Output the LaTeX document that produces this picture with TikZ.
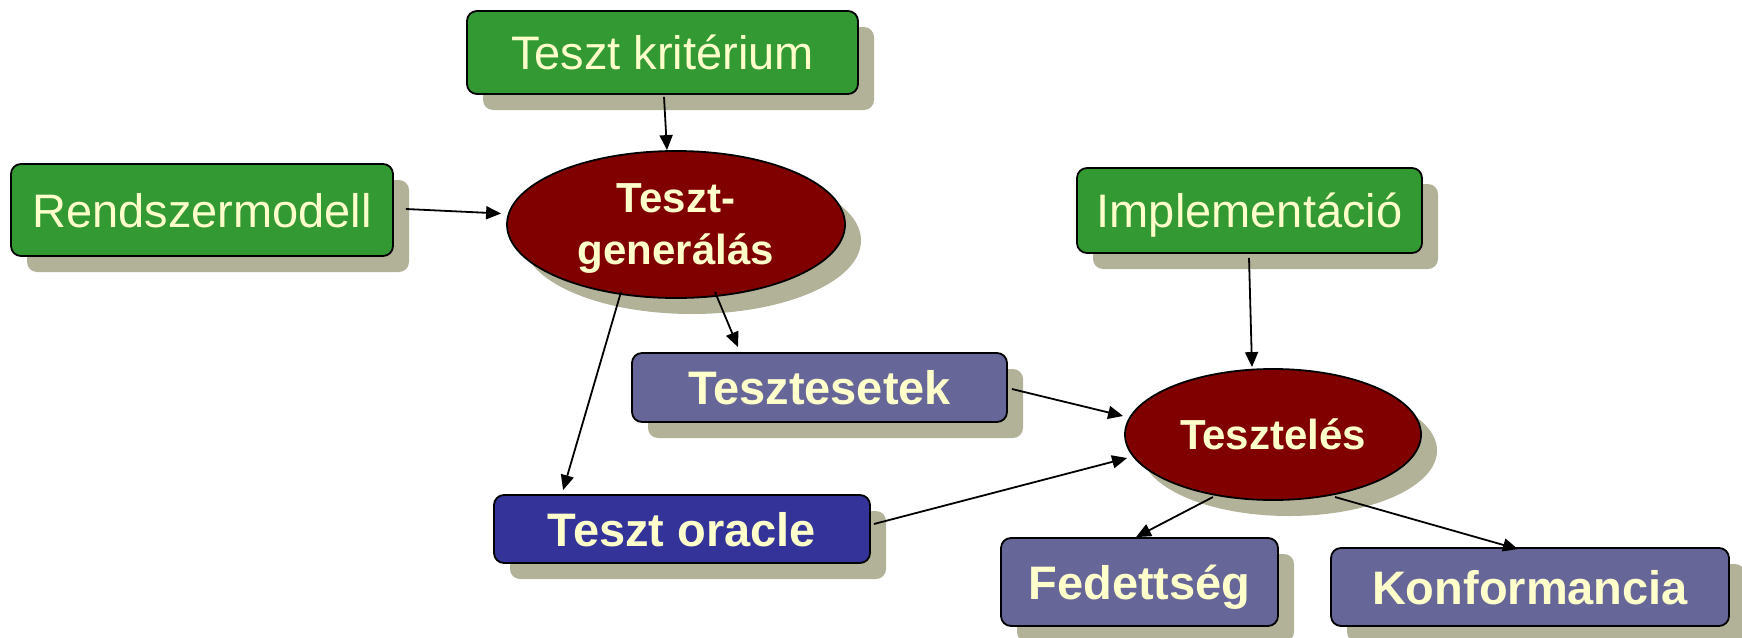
\documentclass[tikz,border=0pt]{standalone}
\usepackage{fontspec}
\setmainfont{Liberation Sans}
\usetikzlibrary{arrows.meta,shapes.geometric,shadows,calc}
\definecolor{boxgreen}{HTML}{339933}
\definecolor{boxblue}{HTML}{333399}
\definecolor{boxslate}{HTML}{666699}
\definecolor{ovalred}{HTML}{800000}
\definecolor{txtyellow}{HTML}{FFFFCC}
\definecolor{shadowc}{HTML}{B2B299}
\begin{document}
\begin{tikzpicture}[x=1pt, y=-1pt,
  shadowed/.style={drop shadow={shadow xshift=16pt, shadow yshift=-16pt, fill=shadowc, opacity=1}},
  basebox/.style={draw=black, line width=1.8pt, rounded corners=10pt, text=txtyellow,
    inner sep=0pt, text height=34pt, text depth=0pt, shadowed},
  greenbox/.style={basebox, fill=boxgreen, font=\fontsize{47}{56}\selectfont},
  slatebox/.style={basebox, fill=boxslate, font=\fontsize{47}{56}\selectfont\bfseries},
  bluebox/.style={basebox, fill=boxblue, font=\fontsize{47}{56}\selectfont\bfseries},
  oval/.style={ellipse, draw=black, line width=1.8pt, fill=ovalred, text=txtyellow,
    inner sep=0pt, text depth=0pt, align=center, font=\fontsize{42}{52}\selectfont\bfseries, shadowed},
  arr/.style={line width=1.8pt, -{Triangle[length=15pt, width=13pt]}}
]
\useasboundingbox (0,0) rectangle (1742,637);

\node[greenbox, minimum width=391pt, minimum height=83pt] (krit) at (662.5,52.5) {Teszt kritérium};
\node[greenbox, minimum width=382pt, minimum height=92pt] (rend) at (202,210) {Rendszermodell};
\node[greenbox, minimum width=345pt, minimum height=85pt] (impl) at (1249.5,210.5) {Implementáció};
\node[oval, minimum width=338pt, minimum height=147pt] (gen) at (676,224.5) {Teszt-\\generálás};
\node[oval, minimum width=296pt, minimum height=131pt] (test) at (1273,434.5) {Tesztelés};
\node[slatebox, minimum width=375pt, minimum height=69pt] (cases) at (819.5,387.5) {Tesztesetek};
\node[bluebox, minimum width=376pt, minimum height=68pt] (oracle) at (682,529) {Teszt oracle};
\node[slatebox, minimum width=277pt, minimum height=88pt] (fed) at (1139.5,582) {Fedettség};
\node[slatebox, minimum width=398pt, minimum height=78pt] (konf) at (1530,587) {Konformancia};

\draw[arr] ($(krit.south)+(1.5,2)$) -- ($(gen.north)+(-9,0)$);
\draw[arr] ($(rend.east)+(12,-1)$) -- ($(gen.west)+(-5,-11)$);
\draw[arr] ($(gen.center)+(39,67.5)$) -- ($(cases.north)+(-81.5,-5)$);
\draw[arr] ($(gen.center)+(-55,67.5)$) -- ($(oracle.north west)+(70,-4)$);
\draw[arr] ($(cases.east)+(4,1.5)$) -- ($(test.west)+(-1,-18.5)$);
\draw[arr] ($(oracle.east)+(3,-5)$) -- ($(test.west)+(3,23.5)$);
\draw[arr] ($(impl.south)+(-0.5,4)$) -- ($(test.north)+(-21,-1)$);
\draw[arr] ($(test.center)+(-60,62.5)$) -- ($(fed.north)+(-3.5,0)$);
\draw[arr] ($(test.center)+(62,62.5)$) -- ($(konf.north)+(-12,2)$);
\end{tikzpicture}
\end{document}
